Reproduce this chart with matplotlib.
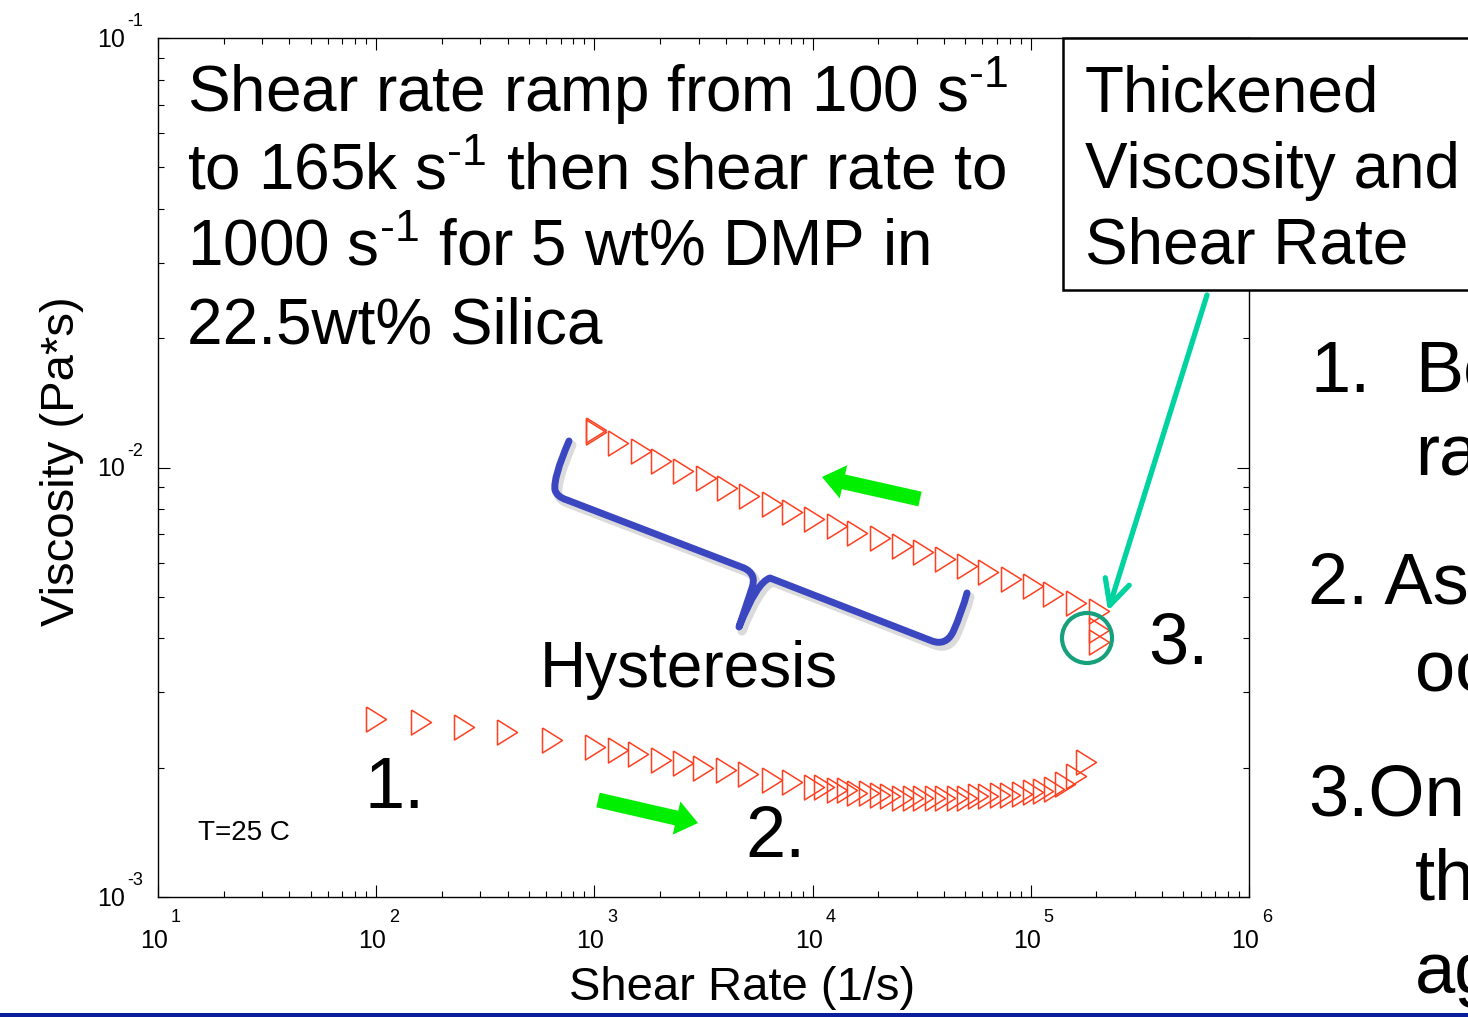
import numpy as np
import matplotlib
matplotlib.use('Agg')
import matplotlib.pyplot as plt
from matplotlib.ticker import LogLocator, NullFormatter, FixedLocator
from matplotlib.patches import Rectangle, FancyArrow, FancyArrowPatch, Circle, PathPatch
from matplotlib.path import Path
from matplotlib.transforms import Affine2D, ScaledTranslation

plt.rcParams['font.family'] = ['Liberation Sans', 'DejaVu Sans']
plt.rcParams['mathtext.fontset'] = 'custom'
plt.rcParams['mathtext.rm'] = 'Liberation Sans'
plt.rcParams['mathtext.it'] = 'Liberation Sans:italic'
plt.rcParams['mathtext.bf'] = 'Liberation Sans:bold'
plt.rcParams['mathtext.default'] = 'regular'

# ---------------- data ----------------
fwd_rate = [100, 160, 252, 399, 641, 1010, 1280, 1590, 2010, 2550, 3160, 4010, 5070,
            6500, 8020, 10150, 11270, 12900, 14390, 15970, 18140, 20370, 22630, 25600,
            28840, 31950, 36390, 40450, 45710, 51030, 57110, 63680, 72270, 80300, 90790,
            102000, 113700, 127700, 143500, 161100, 179000]
fwd_visc = [0.002591, 0.002556, 0.002488, 0.002422, 0.002323, 0.002234, 0.002199, 0.002147,
            0.002088, 0.002054, 0.001999, 0.001975, 0.001933, 0.001873, 0.001853, 0.001799,
            0.001803, 0.001779, 0.001774, 0.00175, 0.001746, 0.00173, 0.001723, 0.001704,
            0.001704, 0.0017, 0.0017, 0.0017, 0.001704, 0.001704, 0.001718, 0.001718,
            0.001727, 0.001727, 0.001737, 0.001755, 0.001764, 0.001783, 0.001832, 0.001913,
            0.002062]
bwd_rate = [204600, 204600, 204600, 161100, 126800, 102700, 80900, 63900, 51200, 40450,
            31960, 25760, 20370, 16030, 12900, 10180, 8020, 6495, 5110, 4040, 3247, 2555,
            2020, 1630, 1287, 1017, 1017]
bwd_visc = [0.00393, 0.004183, 0.004634, 0.004836, 0.005075, 0.005284, 0.005507, 0.00572,
            0.005912, 0.006124, 0.006368, 0.006565, 0.006835, 0.00704, 0.007301, 0.007598,
            0.007888, 0.00823, 0.008584, 0.008946, 0.009428, 0.009824, 0.010354, 0.010924,
            0.011387, 0.012117, 0.01225]
x_ticks = [1e1, 1e2, 1e3, 1e4, 1e5, 1e6]
x_exps = ['1', '2', '3', '4', '5', '6']
y_ticks = [1e-3, 1e-2, 1e-1]
y_exps = ['-3', '-2', '-1']

RED = '#FF4020'
GREEN = '#00EE00'
TEAL = '#00D2A0'
CIRC = '#17A07C'
BLUE = '#3B47C0'
NAVY = '#0A1E9B'

W, H = 1468, 1017
fig = plt.figure(figsize=(W / 100, H / 100), dpi=100)
ax = fig.add_axes([158 / W, 1 - 897 / H, (1249 - 158) / W, (897 - 38) / H])
PX = Affine2D().scale(1 / 100, -1 / 100).translate(0, H / 100) + fig.dpi_scale_trans

def off(dx, dy):
    # offset in pixels (dy positive = downwards)
    return ScaledTranslation(dx / 100, -dy / 100, fig.dpi_scale_trans)

tri = [(-0.4, 0.5), (0.4, 0.0), (-0.4, -0.5), (-0.4, 0.5)]
ax.plot(fwd_rate, fwd_visc, linestyle='none', marker=tri, ms=18, mfc='none', mec=RED, mew=1.1)
ax.plot(bwd_rate, bwd_visc, linestyle='none', marker=tri, ms=18, mfc='none', mec=RED, mew=1.1)

ax.set_xscale('log')
ax.set_yscale('log')
ax.set_xlim(1e1, 1e6)
ax.set_ylim(1e-3, 1e-1)
ax.xaxis.set_major_locator(FixedLocator(x_ticks))
ax.yaxis.set_major_locator(FixedLocator(y_ticks))
ax.xaxis.set_major_formatter(NullFormatter())
ax.yaxis.set_major_formatter(NullFormatter())
ax.xaxis.set_minor_locator(LogLocator(base=10, subs=range(2, 10), numticks=20))
ax.yaxis.set_minor_locator(LogLocator(base=10, subs=range(2, 10), numticks=20))
ax.xaxis.set_minor_formatter(NullFormatter())
ax.yaxis.set_minor_formatter(NullFormatter())
ax.tick_params(which='both', direction='in', top=True, right=True, width=0.8)
ax.tick_params(which='major', length=8.5)
ax.tick_params(which='minor', length=4.5)
for s in ax.spines.values():
    s.set_linewidth(1.0)

# MATLAB-style power-of-ten tick labels
for v, e in zip(x_ticks, x_exps):
    ax.text(v, 0, '10', transform=ax.get_xaxis_transform() + off(10, 51),
            ha='right', va='baseline', fontsize=18)
    ax.text(v, 0, e, transform=ax.get_xaxis_transform() + off(13, 25),
            ha='left', va='baseline', fontsize=13)
for v, e in zip(y_ticks, y_exps):
    ax.text(0, v, '10', transform=ax.get_yaxis_transform() + off(-33, 9),
            ha='right', va='baseline', fontsize=18)
    ax.text(0, v, e, transform=ax.get_yaxis_transform() + off(-31, -12),
            ha='left', va='baseline', fontsize=13)

ax.set_xlabel('Shear Rate (1/s)', fontsize=34)
ax.xaxis.label.set_va('baseline')
ax.xaxis.set_label_coords((742 - 158) / 1091, (897 - 1000) / 859)
ax.set_ylabel('Viscosity (Pa*s)', fontsize=34)
ax.yaxis.label.set_va('baseline')
ax.yaxis.set_label_coords((74 - 158) / 1091, (897 - 461) / 859)

# --------------- annotations ---------------
big = 46
def ptext(x, y, s, size, **kw):
    fig.text(x, y, s, transform=PX, fontsize=size, va='baseline', ha='left', zorder=6, **kw)

for i, line in enumerate([r'Shear rate ramp from 100 s$^{\text{-}1}$',
                          r'to 165k s$^{\text{-}1}$ then shear rate to',
                          r'1000 s$^{\text{-}1}$ for 5 wt% DMP in',
                          '22.5wt% Silica']):
    ptext(187, 112 + 77 * i, line, big)

fig.add_artist(Rectangle((1063, 38), 500, 252, transform=PX, fc='white', ec='black',
                         lw=1.8, zorder=5))
for i, line in enumerate(['Thickened', 'Viscosity and', 'Shear Rate']):
    ptext(1085, 112 + 76 * i, line, big)

ptext(540, 687, 'Hysteresis', big)
ptext(365, 808, '1.', 52)
ptext(745, 857, '2.', 52)
ptext(1148, 663, '3.', 52)
ptext(198, 840, 'T=25 C', 20)

# right side partial slide text
ptext(1310, 392, '1.', 52)
ptext(1415, 392, 'Be', 52)
ptext(1415, 476, 'ra', 52)
ptext(1308, 604, '2. As', 52)
ptext(1415, 692, 'oc', 52)
ptext(1308, 815, '3.On', 52)
ptext(1415, 900, 'th', 52)
ptext(1415, 993, 'ag', 52)

# brace (with soft shadow)
brace_v = [(569, 441), (553, 478), (555, 490), (557, 497), (567, 500), (744, 568),
           (757, 574), (752, 588), (739, 627), (757, 582), (770, 578), (932, 641),
           (946, 646), (953, 632), (962, 612), (967, 593)]
brace_c = [Path.MOVETO, Path.CURVE3, Path.CURVE3, Path.CURVE3, Path.CURVE3, Path.LINETO,
           Path.CURVE3, Path.CURVE3, Path.LINETO, Path.CURVE3, Path.CURVE3, Path.LINETO,
           Path.CURVE3, Path.CURVE3, Path.CURVE3, Path.CURVE3]
shadow_v = [(x + 3, y + 4) for x, y in brace_v]
fig.add_artist(PathPatch(Path(shadow_v, brace_c), transform=PX, fc='none', ec='#999999',
                         alpha=0.35, lw=6.5, capstyle='round', joinstyle='round', zorder=3))
fig.add_artist(PathPatch(Path(brace_v, brace_c), transform=PX, fc='none', ec=BLUE,
                         lw=5, capstyle='round', joinstyle='round', zorder=4))

# green direction arrows
fig.add_artist(FancyArrow(598, 800, 100, 23, width=15, head_width=34, head_length=22,
                          length_includes_head=True, transform=PX, fc=GREEN, ec='none', zorder=4))
fig.add_artist(FancyArrow(920, 499, -98, -22, width=15, head_width=34, head_length=22,
                          length_includes_head=True, transform=PX, fc=GREEN, ec='none', zorder=4))

# teal arrow and circle
fig.add_artist(FancyArrowPatch((1207, 295), (1108, 611), transform=PX,
                               arrowstyle='->,head_length=1.8,head_width=0.9',
                               mutation_scale=10, color=TEAL, lw=3.8, shrinkA=0, shrinkB=0,
                               capstyle='round', joinstyle='round', zorder=4))
fig.add_artist(Circle((1087, 638), 25, transform=PX, fc='none', ec=CIRC, lw=3, zorder=4))

# bottom slide rule
fig.add_artist(Rectangle((0, 1013), W, 4, transform=PX, fc=NAVY, ec='none', zorder=4))

fig.savefig('out.png', dpi=100)
